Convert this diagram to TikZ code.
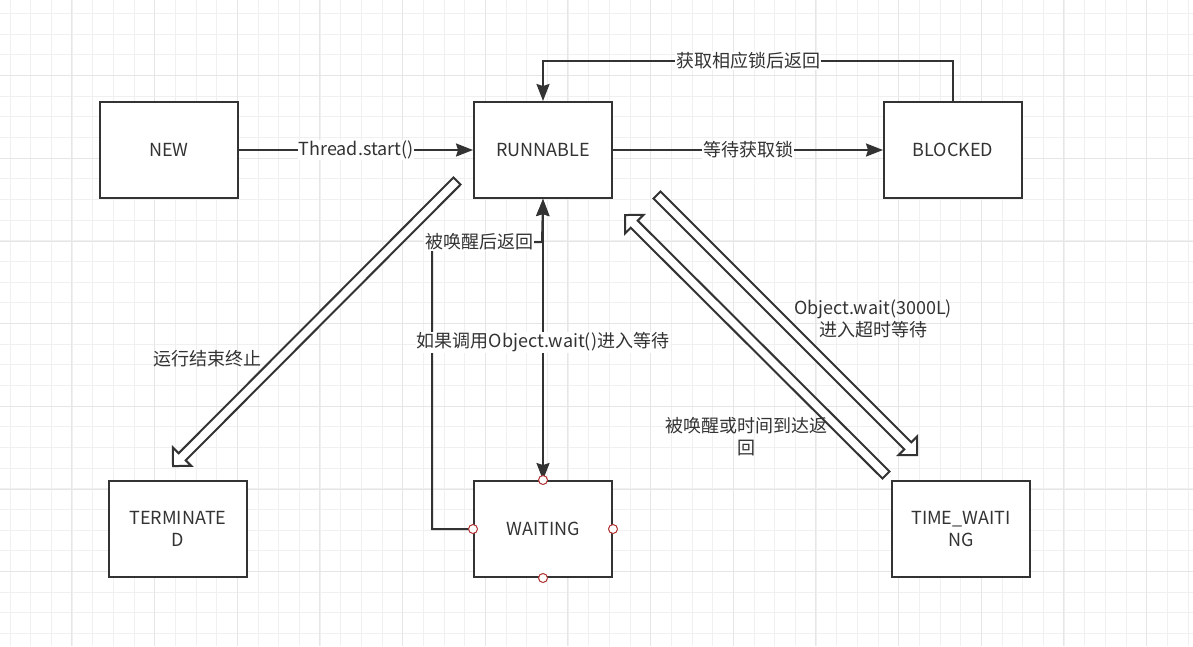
\documentclass[tikz,border=0pt]{standalone}
\usepackage{fontspec}
\setmainfont{Noto Sans CJK SC}
\usepackage{tikz}
\usetikzlibrary{arrows.meta, calc}
\usepackage{xcolor}
\definecolor{inkgray}{HTML}{333333}
\definecolor{gridminor}{HTML}{F0F0F0}
\definecolor{gridmajor}{HTML}{E6E6E6}
\definecolor{pointred}{HTML}{B03030}

% hollow (flex) arrow between two points
\newcommand{\flexarrow}[2]{%
  \coordinate (neck) at ($(#2)!13pt!(#1)$);
  \draw[flex] ($(#1)!5pt!90:(#2)$) -- ($(neck)!5pt!90:(#2)$) -- ($(neck)!13pt!90:(#2)$) -- (#2)
    -- ($(neck)!13pt!-90:(#2)$) -- ($(neck)!5pt!-90:(#2)$) -- ($(#1)!5pt!-90:(#2)$) -- cycle;
}

\begin{document}
\begin{tikzpicture}[
        x=1pt, y=-1pt,
        >={Stealth[length=17pt, width=13pt, inset=2pt]},
        font=\fontsize{18}{22}\selectfont,
        box/.style={draw=inkgray, line width=2pt, fill=white, minimum width=138pt, minimum height=96pt, text=inkgray, align=center, inner sep=0pt},
        conn/.style={draw=inkgray, line width=2pt, ->},
        lbl/.style={fill=white, text=inkgray, inner sep=1pt},
        txt/.style={text=inkgray, align=center, inner sep=0pt},
        flex/.style={draw=inkgray, line width=2pt, fill=white, line join=miter},
        port/.style={draw=pointred, line width=1pt, fill=white}
      ]

      % Background and grid
      \useasboundingbox (0,0) rectangle (1193,646);
      \fill[white] (0,0) rectangle (1193,646);
      \foreach \gx in {10,30.667,...,1193} \draw[gridminor, line width=1pt] (\gx,0) -- (\gx,646);
      \foreach \gy in {13.333,34,...,646} \draw[gridminor, line width=1pt] (0,\gy) -- (1193,\gy);
      \foreach \gx in {71.667,154.333,...,1193} \draw[gridmajor, line width=1pt] (\gx,0) -- (\gx,646);
      \foreach \gy in {75.667,158.333,...,646} \draw[gridmajor, line width=1pt] (0,\gy) -- (1193,\gy);

      % States
      \node[box] (new) at (169,150) {NEW};
      \node[box] (runnable) at (543,150) {RUNNABLE};
      \node[box] (blocked) at (953,150) {BLOCKED};
      \node[box] (terminated) at (178,529) {TERMINATE\\D};
      \node[box] (waiting) at (543,529) {WAITING};
      \node[box] (timewaiting) at (961,529) {TIME\_WAITI\\NG};

      % Transitions
      \draw[conn] (new) -- node[lbl] {Thread.start()} (runnable);
      \draw[conn] (runnable) -- node[lbl] {等待获取锁} (blocked);
      \draw[conn] (blocked.north) -- ++(0,-40) -| node[lbl, pos=0.25] {获取相应锁后返回} (runnable.north);

      \draw[conn] (waiting.west) -- ++(-41,0) -- ++(0,-287) -- node[lbl, pos=0.43] {被唤醒后返回} ++(110,0) -- (runnable.south);
      \draw[conn, <->] (runnable) -- node[lbl, pos=0.51] {如果调用Object.wait()进入等待} (waiting);

      % Hollow arrows
      \coordinate (runA) at (457,181);
      \coordinate (termA) at (173,466);
      \coordinate (runB) at (657,195);
      \coordinate (timeB) at (917,455);
      \coordinate (timeC) at (886,475);
      \coordinate (runC) at (625,215);
      \flexarrow{runA}{termA}
      \flexarrow{runB}{timeB}
      \flexarrow{timeC}{runC}

      % Free labels
      \node[txt] (endlbl) at (207,359) {运行结束终止};
      \node[txt] (timedlbl) at (873,319) {Object.wait(3000L)\\进入超时等待};
      \node[txt] (wakelbl) at (746,437) {被唤醒或时间到达返\\回};

      % Connection points of WAITING
      \foreach \a in {north,south,east,west} \draw[port] (waiting.\a) circle[radius=4.5pt];

    \end{tikzpicture}
\end{document}
